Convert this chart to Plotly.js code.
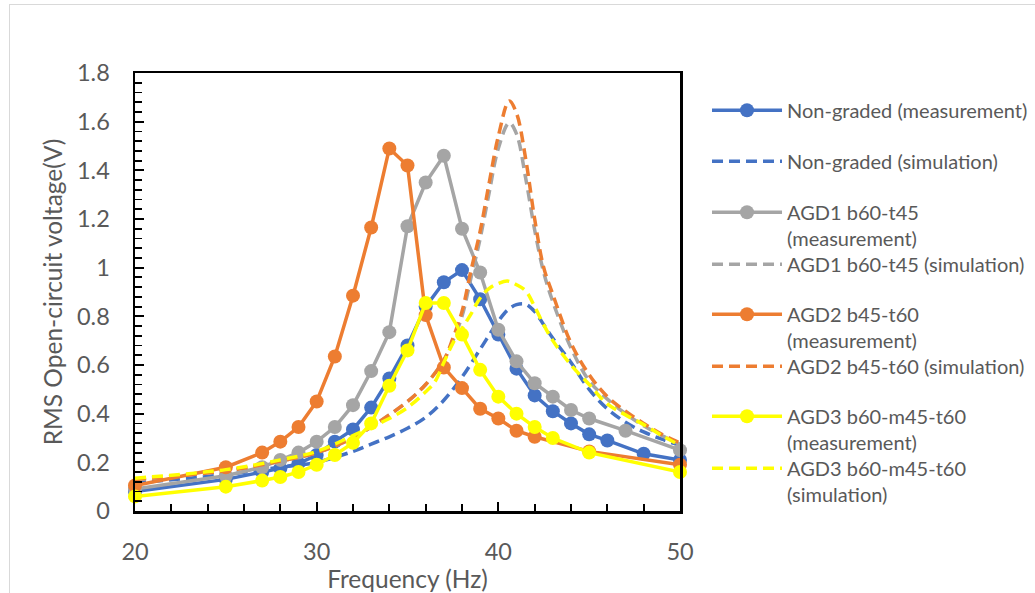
<!DOCTYPE html>
<html><head><meta charset="utf-8">
<script src="https://cdn.plot.ly/plotly-3.0.1.min.js"></script>
<style>
html,body{margin:0;padding:0;background:#fff;overflow:hidden}
#chart{position:absolute;left:0;top:0;width:1035px;height:593px}
#frame{position:absolute;left:9px;top:4px;width:1100px;height:700px;border:1px solid #d9d9d9;pointer-events:none}
</style></head><body>
<div id="chart"></div><div id="frame"></div>
<script>
// ---- data ----
const ngMeasX = [20, 25, 27, 28, 29, 30, 31, 32, 33, 34, 35, 36, 37, 38, 39, 40, 41, 42, 43, 44, 45, 46, 48, 50];
const ngMeasY = [0.08, 0.13, 0.16, 0.175, 0.195, 0.23, 0.285, 0.335, 0.425, 0.545, 0.68, 0.84, 0.94, 0.99, 0.87, 0.725, 0.585, 0.475, 0.41, 0.36, 0.315, 0.29, 0.235, 0.21];
const ngSimX = [20, 25, 28, 30, 32, 33, 34, 35, 36, 37, 38, 39, 40, 40.5, 41, 41.5, 42, 42.5, 43, 44, 45, 46, 47, 48, 49, 50];
const ngSimY = [0.115, 0.15, 0.18, 0.2, 0.245, 0.275, 0.305, 0.34, 0.385, 0.455, 0.55, 0.665, 0.78, 0.825, 0.848, 0.85, 0.82, 0.765, 0.71, 0.61, 0.5, 0.42, 0.365, 0.325, 0.295, 0.27];

const agd1MeasX = [20, 25, 27, 28, 29, 30, 31, 32, 33, 34, 35, 36, 37, 38, 39, 40, 41, 42, 43, 44, 45, 47, 50];
const agd1MeasY = [0.09, 0.145, 0.18, 0.21, 0.24, 0.285, 0.345, 0.435, 0.575, 0.735, 1.17, 1.35, 1.46, 1.16, 0.98, 0.745, 0.615, 0.525, 0.47, 0.415, 0.38, 0.33, 0.25];
const agd1SimX = [20, 25, 28, 30, 32, 33, 34, 35, 36, 37, 37.5, 38, 38.5, 39, 39.5, 40, 40.6, 41, 41.5, 42, 42.5, 43, 44, 45, 46, 47, 48, 49, 50];
const agd1SimY = [0.13, 0.165, 0.205, 0.24, 0.3, 0.345, 0.395, 0.45, 0.52, 0.62, 0.7, 0.8, 0.96, 1.12, 1.31, 1.49, 1.595, 1.55, 1.37, 1.155, 0.98, 0.86, 0.67, 0.535, 0.46, 0.4, 0.35, 0.31, 0.275];

const agd2MeasX = [20, 25, 27, 28, 29, 30, 31, 32, 33, 34, 35, 36, 37, 38, 39, 40, 41, 42, 45, 50];
const agd2MeasY = [0.105, 0.18, 0.24, 0.285, 0.345, 0.45, 0.635, 0.885, 1.165, 1.49, 1.42, 0.805, 0.59, 0.505, 0.42, 0.38, 0.33, 0.305, 0.245, 0.19];
const agd2SimX = [20, 25, 28, 30, 32, 33, 34, 35, 36, 37, 37.5, 38, 38.5, 39, 39.5, 40, 40.6, 41, 41.5, 42, 42.5, 43, 44, 45, 46, 47, 48, 49, 50];
const agd2SimY = [0.13, 0.165, 0.205, 0.24, 0.3, 0.345, 0.395, 0.45, 0.52, 0.62, 0.71, 0.82, 0.99, 1.15, 1.35, 1.54, 1.685, 1.635, 1.45, 1.2, 1.0, 0.89, 0.69, 0.56, 0.47, 0.41, 0.36, 0.315, 0.28];

const agd3MeasX = [20, 25, 27, 28, 29, 30, 31, 32, 33, 34, 35, 36, 37, 38, 39, 40, 41, 42, 43, 45, 50];
const agd3MeasY = [0.06, 0.10, 0.125, 0.14, 0.16, 0.19, 0.23, 0.28, 0.36, 0.515, 0.66, 0.855, 0.855, 0.725, 0.58, 0.47, 0.40, 0.345, 0.30, 0.24, 0.16];
const agd3SimX = [20, 25, 28, 30, 32, 33, 34, 35, 36, 36.5, 37, 37.5, 38, 38.5, 39, 39.5, 40, 40.5, 41, 41.5, 42, 42.5, 43, 44, 45, 46, 47, 48, 49, 50];
const agd3SimY = [0.135, 0.17, 0.21, 0.245, 0.31, 0.345, 0.38, 0.425, 0.49, 0.53, 0.61, 0.69, 0.75, 0.81, 0.875, 0.915, 0.935, 0.945, 0.93, 0.905, 0.84, 0.765, 0.7, 0.6, 0.52, 0.44, 0.395, 0.355, 0.31, 0.27];

const seriesNames = [
  'Non-graded (measurement)',
  'Non-graded (simulation)',
  'AGD1 b60-t45<br>(measurement)',
  'AGD1 b60-t45 (simulation)',
  'AGD2 b45-t60<br>(measurement)',
  'AGD2 b45-t60 (simulation)',
  'AGD3 b60-m45-t60<br>(measurement)',
  'AGD3 b60-m45-t60<br>(simulation)'
];
const xTickVals = [20, 30, 40, 50];

// ---- styles ----
const BLUE = '#4472C4', GRAY = '#A5A5A5', ORANGE = '#ED7D31', YELLOW = '#FFFF00';
const FONT = 'Lato, "Open Sans", sans-serif';
const TXT = '#595959';
// vertical slot (container y, top) for each legend entry, mimicking the reference legend
const legendTops = [0.8470, 0.7610, 0.6750, 0.5873, 0.5030, 0.4153, 0.3310, 0.2433];

function meas(x, y, name, color, lg) {
  return {x: x, y: y, name: name, type: 'scatter', mode: 'lines+markers', legend: lg,
    line: {color: color, width: 3.5}, marker: {color: color, size: 14},
    cliponaxis: false, hoverinfo: 'x+y'};
}
function sim(x, y, name, color, lg) {
  return {x: x, y: y, name: name, type: 'scatter', mode: 'lines', legend: lg,
    line: {color: color, width: 3.5, dash: '11px,6px', shape: 'spline', smoothing: 1},
    cliponaxis: false, hoverinfo: 'x+y'};
}
const lgIds = ['legend', 'legend2', 'legend3', 'legend4', 'legend5', 'legend6', 'legend7', 'legend8'];

const data = [
  meas(ngMeasX, ngMeasY, seriesNames[0], BLUE, lgIds[0]),
  sim(ngSimX, ngSimY, seriesNames[1], BLUE, lgIds[1]),
  meas(agd1MeasX, agd1MeasY, seriesNames[2], GRAY, lgIds[2]),
  sim(agd1SimX, agd1SimY, seriesNames[3], GRAY, lgIds[3]),
  meas(agd2MeasX, agd2MeasY, seriesNames[4], ORANGE, lgIds[4]),
  sim(agd2SimX, agd2SimY, seriesNames[5], ORANGE, lgIds[5]),
  meas(agd3MeasX, agd3MeasY, seriesNames[6], YELLOW, lgIds[6]),
  sim(agd3SimX, agd3SimY, seriesNames[7], YELLOW, lgIds[7])
];

const layout = {
  width: 1035, height: 593,
  margin: {l: 135, r: 355, t: 73, b: 82, autoexpand: false},
  paper_bgcolor: '#fff', plot_bgcolor: '#fff',
  font: {family: FONT, color: TXT, size: 20},
  showlegend: true,
  xaxis: {
    range: [20, 50], tickvals: xTickVals, ticktext: xTickVals.map(String),
    ticks: 'inside', ticklen: 9, tickwidth: 1.8, tickcolor: '#000',
    minor: {dtick: 2, ticks: 'inside', ticklen: 7, tickwidth: 1.8, tickcolor: '#000'},
    showline: true, linecolor: '#000', linewidth: 2.5, mirror: true,
    showgrid: false, zeroline: false, automargin: false,
    ticklabelstandoff: 18,
    tickfont: {family: FONT, size: 23.5, color: TXT},
    title: {text: 'Frequency (Hz)', font: {family: FONT, size: 24.5, color: TXT}, standoff: 4}
  },
  yaxis: {
    range: [0, 1.8], dtick: 0.2, tick0: 0,
    ticks: 'inside', ticklen: 9, tickwidth: 1.8, tickcolor: '#000',
    minor: {dtick: 0.04, ticks: 'inside', ticklen: 7, tickwidth: 1.8, tickcolor: '#000'},
    showline: true, linecolor: '#000', linewidth: 2.5, mirror: true,
    showgrid: false, zeroline: false, automargin: false,
    ticklabelstandoff: 18,
    tickfont: {family: FONT, size: 23.5, color: TXT},
    title: {text: 'RMS Open-circuit voltage(V)', font: {family: FONT, size: 24.5, color: TXT}, standoff: 8}
  }
};
lgIds.forEach(function (id, i) {
  layout[id] = {
    xref: 'container', yref: 'container',
    x: 0.6831, y: legendTops[i], xanchor: 'left', yanchor: 'top',
    valign: 'top', itemwidth: 70,
    font: {family: FONT, size: 20, color: TXT},
    bgcolor: 'rgba(0,0,0,0)'
  };
});

Plotly.newPlot('chart', data, layout, {displayModeBar: false, staticPlot: true});
</script>
</body></html>
